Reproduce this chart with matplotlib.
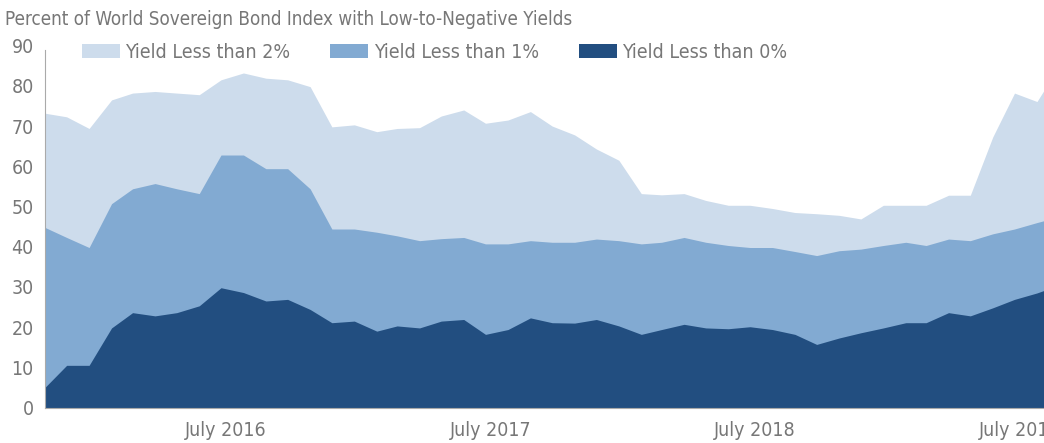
import numpy as np
import pandas as pd
import matplotlib
matplotlib.use('Agg')
import matplotlib.pyplot as plt
from matplotlib.patches import Patch

plt.rcParams['font.family'] = ['DejaVu Sans']
plt.rcParams['font.stretch'] = 'condensed'

# monthly readings, Nov 2015 .. Sep 2019
dates = pd.date_range('2015-11-01', periods=47, freq='MS')

below_2 = [73.2, 72.3, 69.4, 76.5, 78.2, 78.6, 78.2, 77.8, 81.5, 83.2, 81.9, 81.5,
           79.8, 69.8, 70.3, 68.6, 69.4, 69.6, 72.5, 74.0, 70.7, 71.5, 73.6, 70.0,
           67.8, 64.3, 61.5, 53.2, 52.9, 53.2, 51.5, 50.3, 50.3, 49.5, 48.5, 48.2,
           47.8, 46.9, 50.3, 50.3, 50.3, 52.8, 52.8, 67.3, 78.2, 76.1, 85.0]
below_1 = [44.8, 42.3, 39.8, 50.7, 54.4, 55.7, 54.4, 53.2, 62.8, 62.8, 59.4, 59.4,
           54.4, 44.4, 44.4, 43.6, 42.7, 41.5, 42.0, 42.3, 40.7, 40.7, 41.5, 41.1,
           41.1, 41.9, 41.5, 40.7, 41.1, 42.3, 41.1, 40.3, 39.8, 39.8, 38.8, 37.8,
           39.0, 39.4, 40.3, 41.1, 40.3, 41.9, 41.5, 43.2, 44.4, 46.0, 47.5]
below_0 = [5.0, 10.5, 10.5, 19.8, 23.6, 22.8, 23.6, 25.3, 29.8, 28.6, 26.5, 26.9,
           24.4, 21.1, 21.5, 19.0, 20.3, 19.8, 21.5, 21.9, 18.2, 19.4, 22.3, 21.1,
           21.0, 21.9, 20.3, 18.2, 19.4, 20.7, 19.8, 19.6, 20.1, 19.4, 18.2, 15.7,
           17.3, 18.6, 19.8, 21.1, 21.1, 23.6, 22.8, 24.8, 26.9, 28.5, 30.5]

labels = ['Yield Less than 2%', 'Yield Less than 1%', 'Yield Less than 0%']
colors = ['#cddcec', '#82aad2', '#224e80']
tick_dates = pd.to_datetime(['2016-07-08', '2017-07-08', '2018-07-08', '2019-07-08'])
tick_labels = ['July 2016', 'July 2017', 'July 2018', 'July 2019']

fig = plt.figure(figsize=(10.44, 4.43), dpi=100)
ax = fig.add_axes([0.043, 0.08, 0.957, 0.817])

for vals, c in zip([below_2, below_1, below_0], colors):
    ax.fill_between(dates, 0, vals, color=c, linewidth=0)

ax.set_ylim(0, 90)
ax.set_xlim(dates[0], dates[0] + (dates[-1] - dates[0]) * (45.3 / 46))
ax.set_yticks(range(0, 91, 10))
ax.set_xticks(tick_dates)
ax.set_xticklabels(tick_labels)
ax.tick_params(length=0, labelsize=14, colors='#777777')
ax.tick_params(axis='y', pad=8)
ax.tick_params(axis='x', pad=10)

for s in ['top', 'right']:
    ax.spines[s].set_visible(False)
ax.spines['left'].set_color('#aaaaaa')
ax.spines['bottom'].set_color('#aaaaaa')
ax.spines['left'].set_bounds(0, 89)

handles = [Patch(facecolor=c, edgecolor='none') for c in colors]
fig.legend(handles, labels, loc='center left', bbox_to_anchor=(0.071, 0.882),
           ncol=3, frameon=False, fontsize=14, labelcolor='#777777',
           handlelength=1.95, handleheight=0.7, handletextpad=0.28,
           columnspacing=2.05, borderaxespad=0)

fig.text(0.005, 0.955, 'Percent of World Sovereign Bond Index with Low-to-Negative Yields',
         fontsize=13.5, color='#777777', va='center', ha='left')

fig.savefig('out.png', dpi=100)
